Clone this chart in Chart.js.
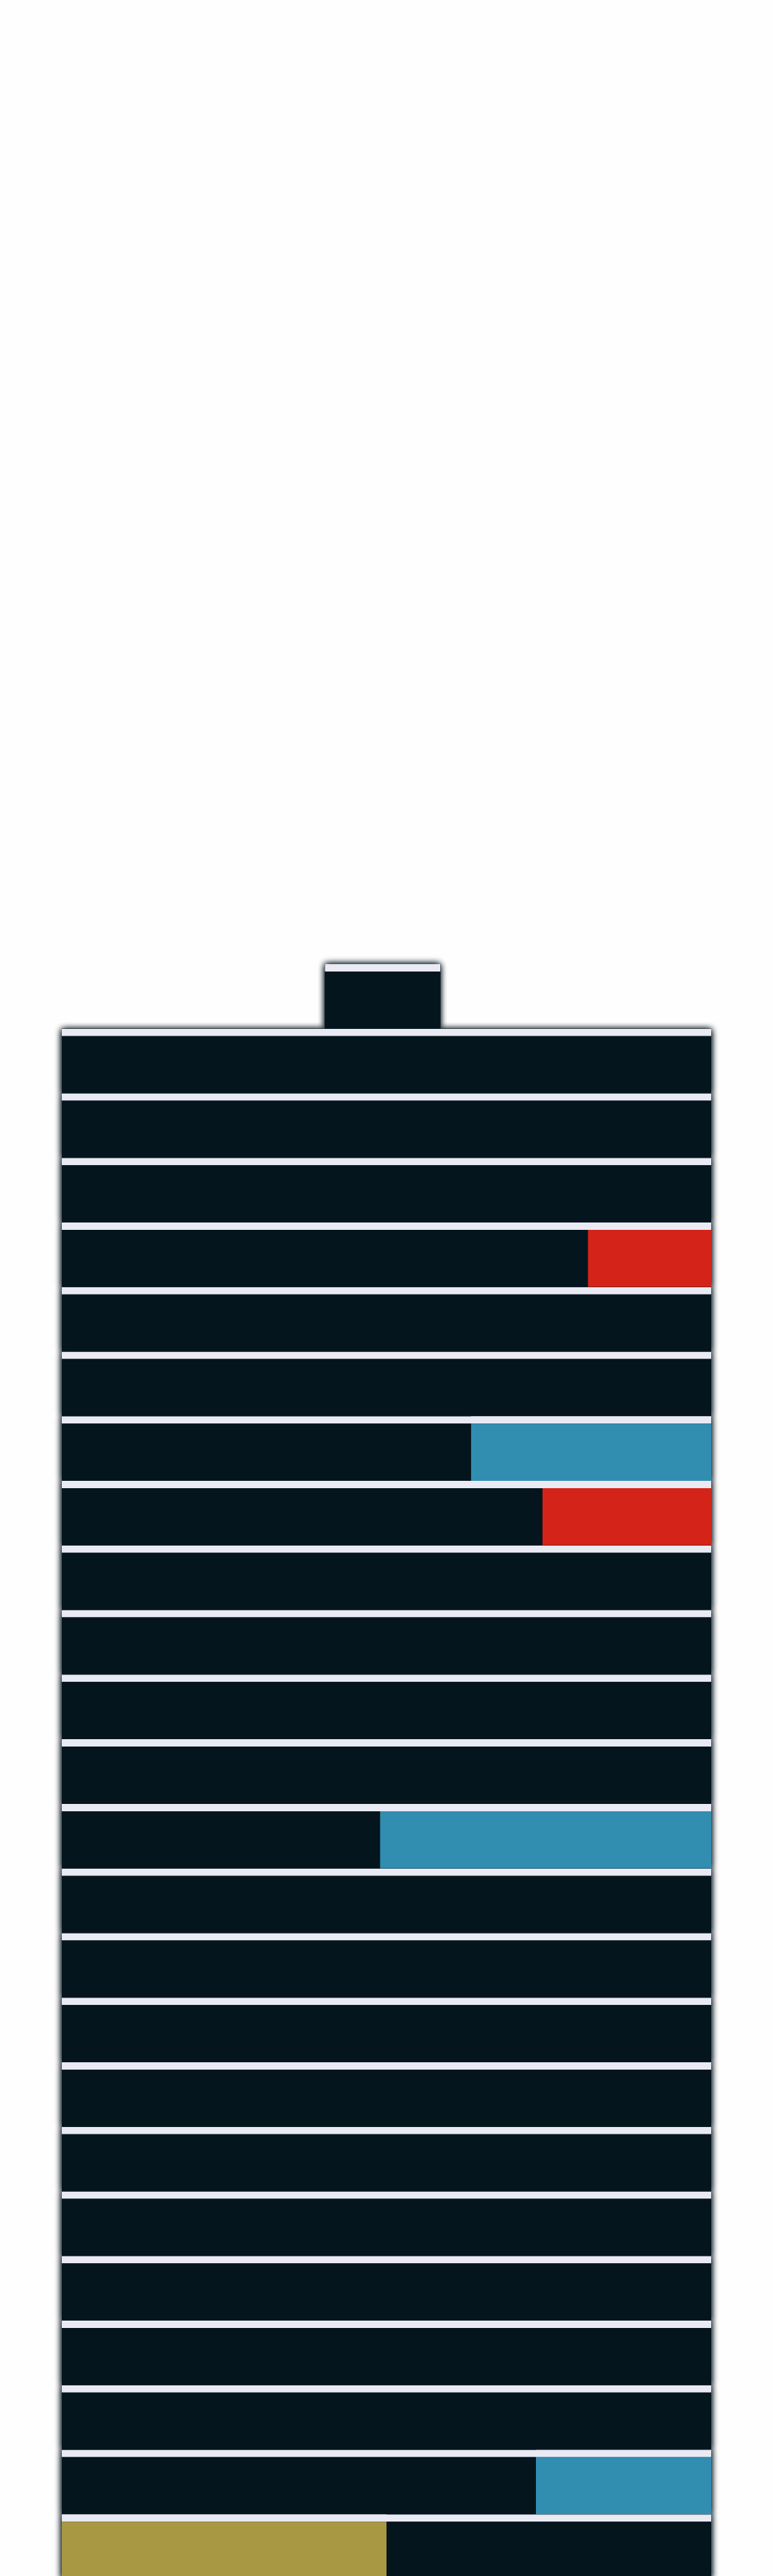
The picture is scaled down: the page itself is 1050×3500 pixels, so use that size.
<!DOCTYPE html>
<html>
<head>
<meta charset="utf-8">
<title>Battery bars</title>
<script src="https://cdn.jsdelivr.net/npm/chart.js@4.4.1/dist/chart.umd.min.js"></script>
<style>
  html, body { margin: 0; padding: 0; background: #fefefe; overflow: hidden; }
  #wrap { width: 1050px; height: 3504px; }
</style>
</head>
<body>
<div id="wrap"><canvas id="battery" width="1050" height="3504"></canvas></div>
<script>
// rows from top: the terminal cap, then 24 cells
const rows = ['cap',
  'c01', 'c02', 'c03', 'c04', 'c05', 'c06', 'c07', 'c08',
  'c09', 'c10', 'c11', 'c12', 'c13', 'c14', 'c15', 'c16',
  'c17', 'c18', 'c19', 'c20', 'c21', 'c22', 'c23', 'c24'];

// dark body of each row (0..100)
const bodyStart = [40.5, 0, 0, 0, 0, 0, 0, 0, 0, 0, 0, 0, 0, 0, 0, 0, 0, 0, 0, 0, 0, 0, 0, 0, 0];
const bodyEnd   = [58.3, 100, 100, 100, 100, 100, 100, 100, 100, 100, 100, 100, 100,
                   100, 100, 100, 100, 100, 100, 100, 100, 100, 100, 100, 100];

// coloured parts, null where a row has none
const blueStart = [null, null, null, null, null, null, null, 63, null, null, null, null, null,
                   49, null, null, null, null, null, null, null, null, null, 73, null];
const redStart  = [null, null, null, null, 81, null, null, null, 74, null, null, null, null,
                   null, null, null, null, null, null, null, null, null, null, null, null];
const goldEnd   = [null, null, null, null, null, null, null, null, null, null, null, null, null,
                   null, null, null, null, null, null, null, null, null, null, null, 50];

const DARK = '#05151d', STRIPE = '#e9eaf4';

function ranges(starts, ends) {
  return starts.map((s, i) => (s === null || ends[i] === null) ? null : [s, ends[i]]);
}
const full = rows.map(() => 100);
const zero = rows.map(() => 0);

function layer(label, data, color, order) {
  return {
    label, data, order,
    backgroundColor: color,
    borderColor: STRIPE,
    borderWidth: { top: 10, left: 0, right: 0, bottom: 0 },
    borderSkipped: false,
    barPercentage: 1,
    categoryPercentage: 1,
    grouped: false,
    inflateAmount: 0
  };
}

// soft dark edge round the body: paint the body bars with a shadow first,
// underneath the normal pass so the stripes stay clean
const bodyShadow = {
  id: 'bodyShadow',
  beforeDatasetsDraw(chart) {
    const idx = chart.data.datasets.findIndex(d => d.label === 'body');
    const meta = chart.getDatasetMeta(idx);
    const ctx = chart.ctx;
    ctx.save();
    ctx.fillStyle = DARK;
    ctx.shadowColor = 'rgba(5,21,29,1)';
    ctx.shadowBlur = 9;
    for (let pass = 0; pass < 2; pass++) {
      meta.data.forEach(el => {
        const { x, y, base, height } = el.getProps(['x', 'y', 'base', 'height'], true);
        if (!isFinite(x) || !isFinite(base)) return;
        ctx.fillRect(Math.min(x, base), y - height / 2, Math.abs(x - base), height);
      });
    }
    ctx.restore();
  }
};

new Chart(document.getElementById('battery'), {
  type: 'bar',
  data: {
    labels: rows,
    datasets: [
      layer('blue', ranges(blueStart, full), '#318eb1', 1),
      layer('red', ranges(redStart, full), '#d42419', 1),
      layer('gold', ranges(zero, goldEnd), '#a99843', 1),
      layer('body', ranges(bodyStart, bodyEnd), DARK, 2)
    ]
  },
  options: {
    indexAxis: 'y',
    responsive: false,
    animation: false,
    layout: { padding: { left: 84, right: 84, top: 1310, bottom: 0 } },
    scales: {
      x: { display: false, min: 0, max: 100 },
      y: { display: false }
    },
    plugins: {
      legend: { display: false },
      tooltip: { enabled: false }
    }
  },
  plugins: [bodyShadow]
});
</script>
</body>
</html>
